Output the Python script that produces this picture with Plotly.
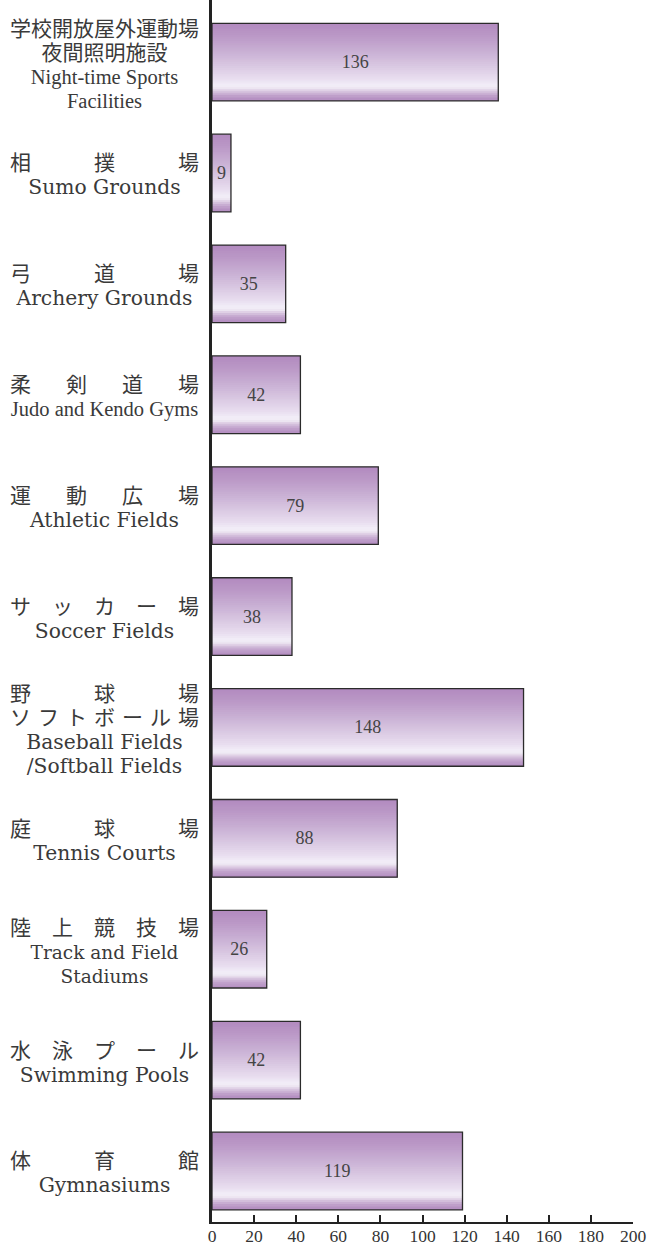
import plotly.graph_objects as go

# ---- data (top to bottom as displayed) ----
categories = [
    "Night-time Sports Facilities", "Sumo Grounds", "Archery Grounds",
    "Judo and Kendo Gyms", "Athletic Fields", "Soccer Fields",
    "Baseball Fields/Softball Fields", "Tennis Courts",
    "Track and Field Stadiums", "Swimming Pools", "Gymnasiums",
]
values = [136, 9, 35, 42, 79, 38, 148, 88, 26, 42, 119]

G3 = "\u3000\u3000\u3000"          # 3 em gap
G53 = "\u3000\u2002\u2006"         # 1.67 em gap
G1 = "\u3000"                      # 1 em gap
G13 = "\u2004"                     # 1/3 em gap
labels_ja = [
    ["学校開放屋外運動場", "夜間照明施設"],
    [G3.join("相撲場")],
    [G3.join("弓道場")],
    [G53.join("柔剣道場")],
    [G53.join("運動広場")],
    [G1.join("サッカー場")],
    [G3.join("野球場"), G13.join("ソフトボール場")],
    [G3.join("庭球場")],
    [G1.join("陸上競技場")],
    [G1.join("水泳プール")],
    [G3.join("体育館")],
]
labels_en = [
    ["Night-time Sports", "Facilities"],
    ["Sumo Grounds"],
    ["Archery Grounds"],
    ["Judo and Kendo Gyms"],
    ["Athletic Fields"],
    ["Soccer Fields"],
    ["Baseball Fields", "/Softball Fields"],
    ["Tennis Courts"],
    ["Track and Field", "Stadiums"],
    ["Swimming Pools"],
    ["Gymnasiums"],
]
narrow_en = {0, 3}
plain_en = {8}
x_ticks = list(range(0, 201, 20))

# ---- styling ----
BAR_W = 0.7
stops = [
    (0.00, (178, 138, 191)),
    (0.15, (186, 151, 198)),
    (0.35, (200, 174, 211)),
    (0.55, (217, 200, 226)),
    (0.72, (233, 222, 240)),
    (0.80, (243, 239, 248)),
    (0.84, (236, 228, 241)),
    (0.88, (214, 195, 222)),
    (0.93, (192, 161, 203)),
    (1.00, (180, 141, 193)),
]


def color_at(f):
    for (f0, c0), (f1, c1) in zip(stops[:-1], stops[1:]):
        if f0 <= f <= f1:
            t = (f - f0) / (f1 - f0) if f1 > f0 else 0
            c = [round(a + (b - a) * t) for a, b in zip(c0, c1)]
            return "rgb(%d,%d,%d)" % tuple(c)
    return "rgb(%d,%d,%d)" % stops[-1][1]


fig = go.Figure()
N = 40
for k in range(N):
    f = k / N
    fig.add_trace(go.Bar(
        x=values, y=categories, orientation="h",
        offset=-BAR_W / 2 + f * BAR_W, width=BAR_W * (1 - f),
        marker=dict(color=color_at(f + 0.5 / N), line=dict(width=0)),
        hoverinfo="skip", showlegend=False,
    ))

fig.add_trace(go.Bar(
    x=values, y=categories, orientation="h",
    offset=-BAR_W / 2, width=BAR_W,
    marker=dict(color="rgba(0,0,0,0)", line=dict(color="#2b2b2b", width=1.3)),
    text=[str(v) for v in values], textposition="inside",
    insidetextanchor="middle", textangle=0, constraintext="none",
    textfont=dict(family="Liberation Serif", size=18, color="#444444"),
    showlegend=False,
))

for i, cat in enumerate(categories):
    lines = []
    for j in labels_ja[i]:
        lines.append('<span style="font-family:Noto Sans CJK JP;font-size:21px">%s</span>' % j)
    for e in labels_en[i]:
        if i in narrow_en:
            lines.append('<span style="font-family:Liberation Serif;font-size:20.5px">%s</span>' % e)
        elif i in plain_en:
            lines.append(e)
        else:
            lines.append('<span style="font-size:20.3px">%s</span>' % e)
    fig.add_annotation(
        x=0, xref="paper", y=cat, yref="y", xanchor="right", yanchor="middle",
        xshift=-11, align="center", showarrow=False,
        text="<br>".join(lines),
        font=dict(family="DejaVu Serif", size=18.5, color="#3a3a3a"),
    )

fig.update_layout(
    width=649, height=1247,
    margin=dict(l=212, r=16, t=0, b=25, autoexpand=False),
    barmode="overlay",
    plot_bgcolor="white", paper_bgcolor="white",
    xaxis=dict(
        range=[0, 200], tickvals=x_ticks, ticktext=[str(t) for t in x_ticks],
        showgrid=False, zeroline=False, showline=True, linecolor="#222222",
        linewidth=2, ticks="inside", ticklen=7, tickwidth=1.5, tickcolor="#222222",
        tickfont=dict(family="Liberation Serif", size=17.5, color="#333333"),
        ticklabelstandoff=-3,
    ),
    yaxis=dict(
        range=[10.46, -0.56], showticklabels=False, showgrid=False,
        zeroline=False, showline=True, linecolor="#222222", linewidth=3,
        ticks="",
    ),
)

fig.write_html("out.html", config={"displayModeBar": False},
               post_script="document.body.style.margin='0';")
